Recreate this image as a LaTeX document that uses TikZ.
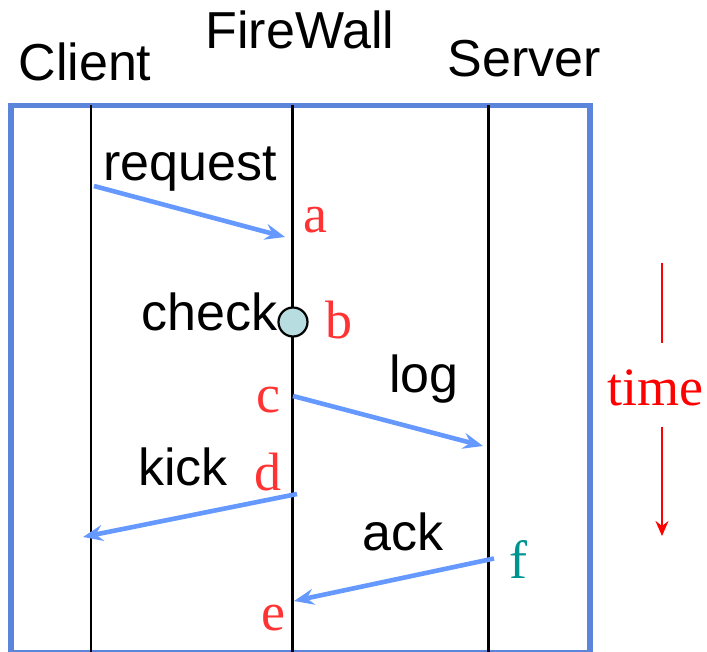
\documentclass[tikz,border=0pt]{standalone}
\usepackage{fontspec}
\setmainfont{Liberation Serif}
\setsansfont{Liberation Sans}
\usetikzlibrary{arrows.meta}
\definecolor{frameblue}{HTML}{5B85DB}
\definecolor{msgblue}{HTML}{6699FF}
\definecolor{lblred}{HTML}{FF3333}
\definecolor{lblteal}{HTML}{009490}
\definecolor{dotfill}{HTML}{B8DDE1}
\tikzset{
  big/.style={font=\sffamily\fontsize{52}{60}\selectfont, inner sep=0pt, anchor=base},
  lbl/.style={font=\rmfamily\fontsize{54}{60}\selectfont, inner sep=0pt, anchor=base, text=lblred},
  lifeline/.style={draw=black, line width=2.8pt},
  msg/.style={draw=msgblue, line width=4.6pt, -{Stealth[length=20pt,width=16pt,inset=7pt]}},
  timearrow/.style={draw=red, line width=2.4pt},
}
\begin{document}
\begin{tikzpicture}[x=1pt,y=-1pt]
\useasboundingbox (0,0) rectangle (707,651);
% frame
\draw[frameblue, line width=5.5pt] (11,105.5) rectangle (590,653);
% lifelines
\coordinate (cT) at (91,105); \coordinate (cB) at (91,655);
\coordinate (fT) at (292.5,105); \coordinate (fB) at (292.5,655);
\coordinate (sT) at (488.5,105); \coordinate (sB) at (488.5,655);
\draw[lifeline] (cT) -- (cB);
\draw[lifeline] (fT) -- (fB);
\draw[lifeline] (sT) -- (sB);
% headers
\node[big] (client) at (85,80) {Client};
\node[big] (firewall) at (300,48) {FireWall};
\node[big] (server) at (524,76) {Server};
% messages
\coordinate (reqS) at (94,186); \coordinate (reqE) at (285,237);
\draw[msg] (reqS) -- (reqE);
\node[big] (request) at (190,180) {request};
\node[lbl] (a) at (315,232) {a};

\node[draw=black, line width=2.2pt, fill=dotfill, circle, minimum size=29pt, inner sep=0pt] (chk) at (293,322) {};
\node[big] (check) at (209.5,330) {check};
\node[lbl] (b) at (339,338) {b};

\coordinate (logS) at (293,396); \coordinate (logE) at (483,446);
\draw[msg] (logS) -- (logE);
\node[big] (log) at (424,392) {log};
\node[lbl] (c) at (268,412) {c};

\coordinate (kickS) at (297,494); \coordinate (kickE) at (83,537);
\draw[msg] (kickS) -- (kickE);
\node[big] (kick) at (183,485) {kick};
\node[lbl] (d) at (268,490) {d};

\coordinate (ackS) at (494,558.5); \coordinate (ackE) at (294,601);
\draw[msg] (ackS) -- (ackE);
\node[big] (ack) at (403,550) {ack};
\node[lbl, text=lblteal] (f) at (518,578) {f};
\node[lbl] (e) at (273,630) {e};

% time
\node[lbl, text=red] (time) at (655,405) {time};
\coordinate (t1) at (662,263); \coordinate (t2) at (662,343);
\coordinate (t3) at (662,427); \coordinate (t4) at (662,536);
\draw[timearrow] (t1) -- (t2);
\draw[timearrow, -{Stealth[length=15pt,width=13pt,inset=5pt]}] (t3) -- (t4);
\end{tikzpicture}
\end{document}
